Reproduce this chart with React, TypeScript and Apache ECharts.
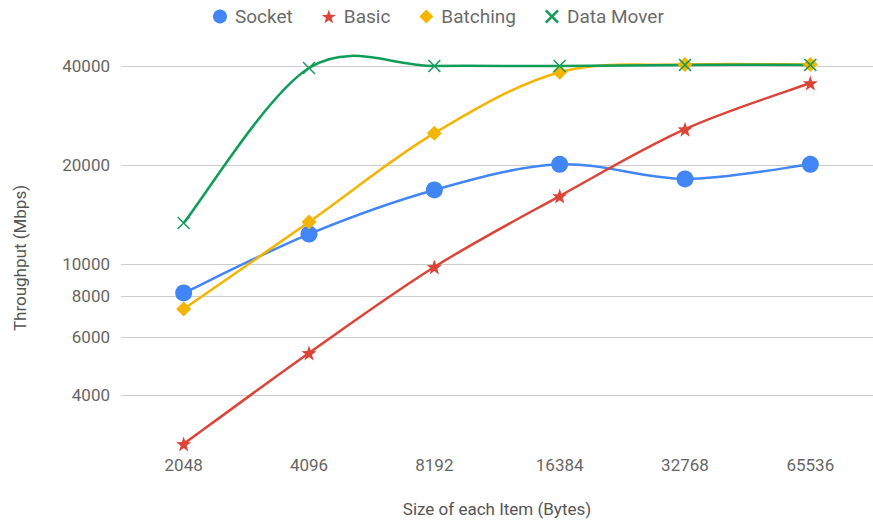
import React, { useEffect, useRef } from "react";
import * as echarts from "echarts";

const categories = ["2048", "4096", "8192", "16384", "32768", "65536"];
const socket = [8170, 12340, 16800, 20100, 18150, 20100];
const basic = [2840, 5370, 9800, 16100, 25700, 35500];
const batching = [7300, 13430, 25000, 38300, 40400, 40400];
const dataMover = [13330, 39450, 40000, 40000, 40300, 40300];
const yTicks = [4000, 6000, 8000, 10000, 20000, 40000];

const STAR =
  "path://M0,-10L2.351,-3.236L9.511,-3.09L3.804,1.236L5.878,8.09L0,4L-5.878,8.09L-3.804,1.236L-9.511,-3.09L-2.351,-3.236Z";
const CROSS =
  "path://M0,0.8L0.8,0L5,4.2L9.2,0L10,0.8L5.8,5L10,9.2L9.2,10L5,5.8L0.8,10L0,9.2L4.2,5Z";
const CROSS_ICON =
  "path://M0,1.3L1.3,0L5,3.7L8.7,0L10,1.3L6.3,5L10,8.7L8.7,10L5,6.3L1.3,10L0,8.7L3.7,5Z";

const FONT = "Roboto, 'Noto Sans', Arial, sans-serif";

// Catmull-Rom style curve through the points, one cubic segment per data item,
// positioned with the axes' own coordinate mapping.
function curveSeries(name: string, values: number[], color: string) {
  return {
    name,
    type: "custom",
    data: values.map((v, i) => [i, v]),
    encode: { x: 0, y: 1 },
    silent: true,
    itemStyle: { color },
    renderItem: (params: any, api: any) => {
      const i = params.dataIndex;
      const n = values.length;
      if (i >= n - 1) return { type: "group", children: [] };
      const pt = (k: number) => {
        const c = Math.max(0, Math.min(n - 1, k));
        return api.coord([c, values[c]]);
      };
      const p0 = pt(i - 1);
      const p1 = pt(i);
      const p2 = pt(i + 1);
      const p3 = pt(i + 2);
      const s = 1 / 6;
      return {
        type: "bezierCurve",
        shape: {
          x1: p1[0],
          y1: p1[1],
          x2: p2[0],
          y2: p2[1],
          cpx1: p1[0] + (p2[0] - p0[0]) * s,
          cpy1: p1[1] + (p2[1] - p0[1]) * s,
          cpx2: p2[0] - (p3[0] - p1[0]) * s,
          cpy2: p2[1] - (p3[1] - p1[1]) * s,
        },
        style: { fill: "none", stroke: color, lineWidth: 2.5 },
      };
    },
  };
}

function markerSeries(
  name: string,
  values: number[],
  color: string,
  symbol: string,
  symbolSize: number
) {
  return {
    name,
    type: "scatter",
    data: values,
    symbol,
    symbolSize,
    itemStyle: { color, opacity: 1 },
    emphasis: { disabled: true },
  };
}

export default function App() {
  const ref = useRef<HTMLDivElement>(null);

  useEffect(() => {
    if (!ref.current) return;
    const chart = echarts.init(ref.current, undefined, { renderer: "svg" });
    chart.setOption({
      animation: false,
      textStyle: { fontFamily: FONT },
      legend: {
        top: 2,
        left: 208,
        itemWidth: 14,
        itemHeight: 14,
        itemGap: 29,
        textStyle: {
          fontSize: 19,
          color: "#6b6b6b",
          fontFamily: FONT,
          padding: [0, 0, 0, 3],
        },
        data: [
          { name: "Socket", icon: "circle", itemStyle: { color: "#4285F4" } },
          { name: "Basic", icon: STAR, itemStyle: { color: "#DB4437" } },
          { name: "Batching", icon: "diamond", itemStyle: { color: "#F4B400" } },
          { name: "Data Mover", icon: CROSS_ICON, itemStyle: { color: "#0F9D58" } },
        ],
      },
      grid: { left: 121, right: -5, top: 46, bottom: 79, containLabel: false },
      xAxis: {
        type: "category",
        data: categories,
        boundaryGap: true,
        axisLine: { show: false },
        axisTick: { show: false },
        axisLabel: { fontSize: 17, color: "#666", margin: 12, fontFamily: FONT },
        name: "Size of each Item (Bytes)",
        nameLocation: "middle",
        nameGap: 56,
        nameTextStyle: { fontSize: 17, color: "#555", fontFamily: FONT },
      },
      yAxis: {
        type: "log",
        logBase: 10,
        min: 2840,
        max: 46000,
        axisLine: { show: false },
        axisTick: { show: false, customValues: yTicks },
        axisLabel: {
          fontSize: 17,
          color: "#666",
          margin: 11,
          fontFamily: FONT,
          customValues: yTicks,
          formatter: (v: number) => String(Math.round(v)),
        },
        splitLine: { show: true, lineStyle: { color: "#cccccc", width: 1 } },
      },
      graphic: [
        {
          type: "text",
          x: 20,
          y: 258,
          rotation: Math.PI / 2,
          style: {
            text: "Throughput (Mbps)",
            fontSize: 17,
            fill: "#555",
            fontFamily: FONT,
            align: "center",
            verticalAlign: "middle",
          },
        },
      ],
      series: [
        curveSeries("Socket", socket, "#4285F4"),
        markerSeries("Socket", socket, "#4285F4", "circle", 17),
        curveSeries("Basic", basic, "#DB4437"),
        markerSeries("Basic", basic, "#DB4437", STAR, 15),
        curveSeries("Batching", batching, "#F4B400"),
        markerSeries("Batching", batching, "#F4B400", "diamond", 15),
        curveSeries("Data Mover", dataMover, "#0F9D58"),
        markerSeries("Data Mover", dataMover, "#0F9D58", CROSS, 13),
      ],
    });
    return () => chart.dispose();
  }, []);

  return (
    <div
      ref={ref}
      style={{ position: "absolute", left: 0, top: 0, width: 873, height: 523, background: "#fff" }}
    />
  );
}
